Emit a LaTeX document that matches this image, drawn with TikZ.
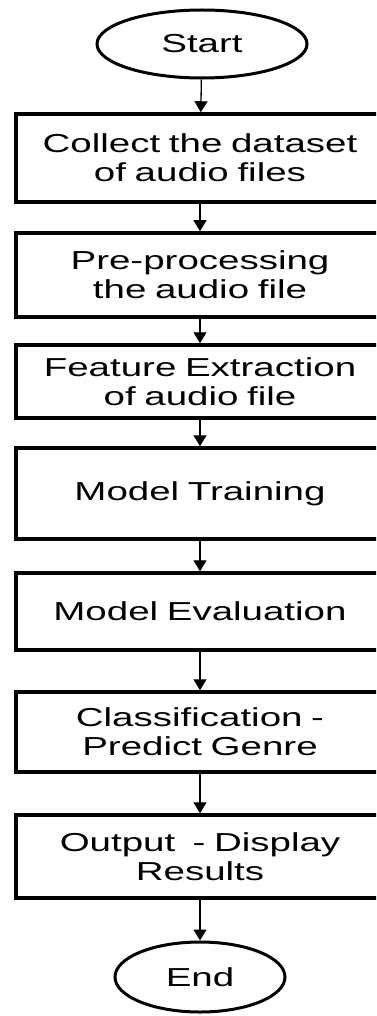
\documentclass[tikz,border=0pt]{standalone}
\usepackage{fontspec}
\setmainfont[FakeStretch=1.48]{Liberation Sans}
\usetikzlibrary{shapes.geometric,arrows.meta}
\tikzset{
  stepbox/.style={draw, line width=3.5pt, rectangle, minimum width=368pt, text width=364pt, align=center, inner sep=0pt, font=\fontsize{26}{29}\selectfont},
  term/.style={draw, line width=3pt, ellipse, inner sep=0pt, font=\fontsize{26}{29}\selectfont},
  arr/.style={line width=1.3pt, -{Triangle[width=13pt,length=11pt]}}
}
\begin{document}
\begin{tikzpicture}[x=1pt,y=-1pt]
\path[use as bounding box] (0,0) rectangle (376,1016);
\clip (0,0) rectangle (376,1016);
\node[term, minimum width=210pt, minimum height=68pt] (start) at (202,44) {Start};
\node[stepbox, minimum height=88pt] (b1) at (200,158) {Collect the dataset\\of audio files};
\node[stepbox, minimum height=84pt] (b2) at (200,275) {Pre-processing\\the audio file};
\node[stepbox, minimum height=73pt] (b3) at (200,381.5) {Feature Extraction\\of audio file};
\node[stepbox, minimum height=91pt] (b4) at (200,493.5) {Model Training};
\node[stepbox, minimum height=77pt] (b5) at (200,611.5) {Model Evaluation};
\node[stepbox, minimum height=80pt] (b6) at (200,732) {Classification -\\Predict Genre};
\node[stepbox, minimum height=83pt] (b7) at (200,856.5) {Output \ - Display\\Results};
\node[term, minimum width=170pt, minimum height=70pt] (end) at (200,977) {End};
\draw[arr] (start) -- (b1);
\draw[arr] (b1) -- (b2);
\draw[arr] (b2) -- (b3);
\draw[arr] (b3) -- (b4);
\draw[arr] (b4) -- (b5);
\draw[arr] (b5) -- (b6);
\draw[arr] (b6) -- (b7);
\draw[arr] (b7) -- (end);
\end{tikzpicture}
\end{document}
